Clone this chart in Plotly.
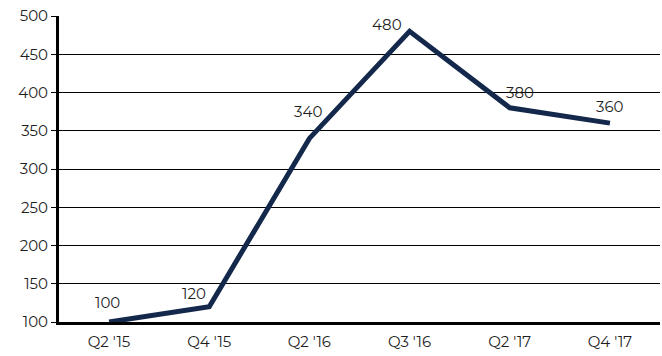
import plotly.graph_objects as go

categories = ["Q2 '15", "Q4 '15", "Q2 '16", "Q3 '16", "Q2 '17", "Q4 '17"]
values = [100, 120, 340, 480, 380, 360]
y_ticks = [100, 150, 200, 250, 300, 350, 400, 450, 500]

# label placement (pixel shifts of each value label relative to its point)
label_xshift = [-2, -15, -1, -23, 10, 0]
label_yshift = [20, 13, 27, 7, 15, 17]

font_family = "Montserrat, Lato, 'Noto Sans', sans-serif"
text_color = "#1e1e1e"

fig = go.Figure(
    go.Scatter(
        x=categories,
        y=values,
        mode="lines",
        line=dict(color="#14284b", width=5),
        cliponaxis=False,
        hoverinfo="skip",
    )
)

for c, v, dx, dy in zip(categories, values, label_xshift, label_yshift):
    fig.add_annotation(
        x=c, y=v, text=str(v), showarrow=False,
        xanchor="center", yanchor="middle",
        xshift=dx, yshift=dy,
        font=dict(size=15, color=text_color, family=font_family),
    )

fig.update_layout(
    width=662,
    height=356,
    margin=dict(l=59, r=2, t=16, b=34),
    paper_bgcolor="white",
    plot_bgcolor="white",
    showlegend=False,
    hovermode=False,
    font=dict(family=font_family, size=15, color=text_color),
)

fig.update_xaxes(
    type="category",
    range=[-0.5, 5.5],
    showgrid=False,
    showline=True,
    linecolor="black",
    linewidth=3,
    ticks="",
    ticklabelstandoff=4,
    tickfont=dict(size=15, color=text_color),
    fixedrange=True,
)

fig.update_yaxes(
    range=[100, 500],
    tickvals=y_ticks,
    showgrid=True,
    gridcolor="black",
    gridwidth=1,
    showline=True,
    linecolor="black",
    linewidth=3,
    ticks="outside",
    ticklen=5,
    tickcolor="black",
    tickwidth=1,
    zeroline=False,
    ticklabeloverflow="allow",
    tickfont=dict(size=15, color=text_color),
    fixedrange=True,
)

fig.write_html(
    "out.html",
    config={"displayModeBar": False, "staticPlot": True},
    post_script="document.body.style.margin='0';",
)
